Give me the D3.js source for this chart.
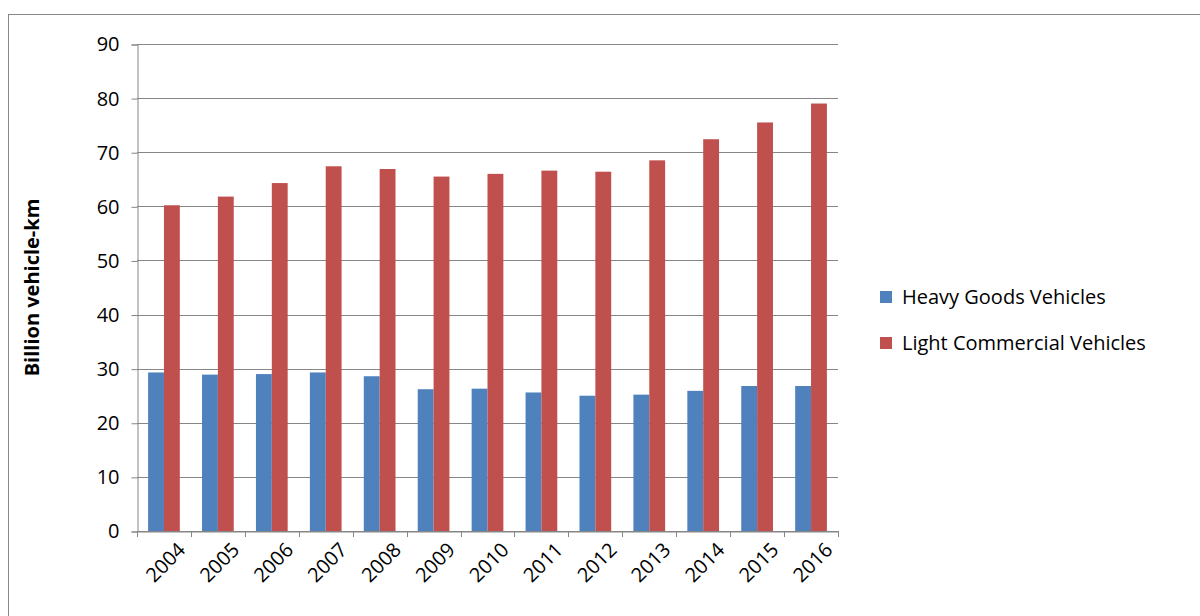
<!doctype html>
<html>
<head>
<meta charset="utf-8">
<style>
* {padding:0;margin:0}
body {background:#fff}
text {font-family:"Open Sans","Liberation Sans",sans-serif}
</style>
</head>
<body>
<div id="chart"></div>
<script src="https://d3js.org/d3.v7.min.js"></script>
<script>
const years = ["2004","2005","2006","2007","2008","2009","2010","2011","2012","2013","2014","2015","2016"];
const hgv = [29.3,28.9,29.0,29.3,28.6,26.2,26.3,25.6,25.0,25.2,25.9,26.8,26.8];
const lcv = [60.2,61.8,64.3,67.4,66.9,65.5,66.0,66.6,66.4,68.5,72.4,75.5,79.0];
const seriesNames = ["Heavy Goods Vehicles","Light Commercial Vehicles"];
const colors = ["#4f81bd","#c0504d"];
const yTicks = [0,10,20,30,40,50,60,70,80,90];

const W = 1200, H = 616;
const pLeft = 137, pRight = 838, pTop = 44, pBottom = 531;

const svg = d3.select("#chart").append("svg").attr("width", W).attr("height", H);
svg.append("rect").attr("x",8.5).attr("y",14.5).attr("width",1200).attr("height",700)
	.attr("fill","none").attr("stroke","#888");

const x = d3.scaleBand().domain(years).range([pLeft,pRight]).paddingInner(0).paddingOuter(0);
const y = d3.scaleLinear().domain([0,90]).range([pBottom,pTop]);
const xs = d3.scaleBand().domain([0,1]).range([0,x.bandwidth()]).paddingInner(0).paddingOuter(0.7);

// gridlines
svg.selectAll("line.grid").data(yTicks).enter().append("line")
	.attr("x1",pLeft).attr("x2",pRight)
	.attr("y1",d=>Math.round(y(d))+0.5).attr("y2",d=>Math.round(y(d))+0.5)
	.attr("stroke","#868686");

const data = [hgv,lcv];
data.forEach(function(vals,s){
	svg.selectAll("rect.s"+s).data(vals).enter().append("rect")
		.attr("x",(d,i)=>x(years[i])+xs(s))
		.attr("width",xs.bandwidth())
		.attr("y",d=>y(d))
		.attr("height",d=>pBottom-y(d))
		.attr("fill",colors[s]);
});

const yAxis = svg.append("g").attr("transform","translate("+(pLeft+0.5)+",0.5)")
	.call(d3.axisLeft(y).tickValues(yTicks).tickSize(6).tickPadding(12));
const xAxis = svg.append("g").attr("transform","translate(0,"+(pBottom+0.5)+")")
	.call(d3.axisBottom(x).tickSize(0).tickPadding(8));
svg.selectAll(".domain, .tick line").attr("stroke","#868686");
yAxis.selectAll("text").style("font-size","20px").attr("fill","#000");
xAxis.selectAll("text").style("font-size","20px").attr("fill","#000")
	.attr("text-anchor","end").attr("transform","translate(7,4) rotate(-45)");
// bottom ticks between categories
svg.selectAll("line.xt").data(years.concat(["end"])).enter().append("line")
	.attr("x1",(d,i)=>Math.round(pLeft+i*x.bandwidth())+0.5)
	.attr("x2",(d,i)=>Math.round(pLeft+i*x.bandwidth())+0.5)
	.attr("y1",pBottom).attr("y2",pBottom+6).attr("stroke","#868686");

svg.append("text").attr("transform","translate(39,"+((pTop+pBottom)/2)+") rotate(-90)")
	.attr("text-anchor","middle").style("font-size","20px").style("font-weight","bold")
	.text("Billion vehicle-km");

const leg = svg.selectAll("g.leg").data(seriesNames).enter().append("g")
	.attr("transform",(d,i)=>"translate(880,"+(297+i*46)+")");
leg.append("rect").attr("x",0).attr("y",-6).attr("width",12).attr("height",12).attr("fill",(d,i)=>colors[i]);
leg.append("text").attr("x",22).attr("y",7).style("font-size","20px").text(d=>d);
</script>
</body>
</html>
